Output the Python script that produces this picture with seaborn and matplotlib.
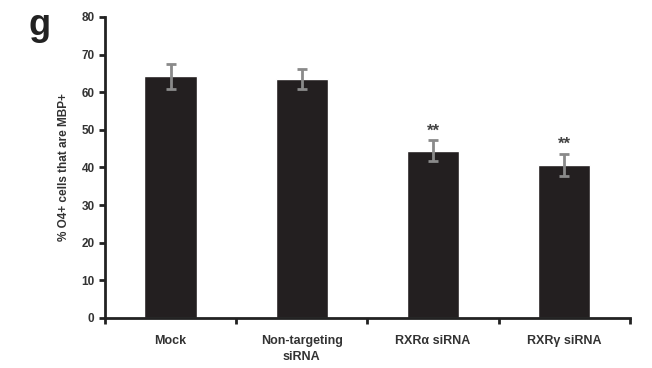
import numpy as np
import pandas as pd
import matplotlib
matplotlib.use("Agg")
import matplotlib.pyplot as plt
import seaborn as sns

# values
groups = ["Mock", "Non-targeting\nsiRNA", "RXR\u03b1 siRNA", "RXR\u03b3 siRNA"]
means = [64.2, 63.5, 44.4, 40.6]
errors = [3.4, 2.7, 2.8, 3.0]
stars = ["", "", "**", "**"]

df = pd.DataFrame({"group": groups, "pct": means})

sns.set_style("ticks")
plt.rcParams['font.family'] = ['Liberation Sans', 'DejaVu Sans']
plt.rcParams['font.weight'] = 'bold'

fig = plt.figure(figsize=(6.52, 3.68), dpi=100)
ax = fig.add_axes([0.161, 0.136, 0.805, 0.818])

sns.barplot(data=df, x="group", y="pct", color="#231f20", width=0.4,
            saturation=1, ax=ax)
x = np.arange(len(groups))
ax.errorbar(x, means, yerr=errors, fmt="none", ecolor="#8a8a8a",
            elinewidth=2, capsize=3.5, capthick=2)

for xi, m, e, s in zip(x, means, errors, stars):
    if s:
        ax.text(xi, m + e + 0.5, s, ha="center", va="bottom",
                fontsize=12, color="#444444")

ax.set_xlim(-0.5, len(groups) - 0.5)
ax.set_ylim(0, 80)
ax.set_yticks(range(0, 81, 10))
ax.set_xticks(np.arange(-0.5, len(groups), 1.0), minor=True)
ax.tick_params(axis="x", which="major", length=0, pad=12, labelsize=9,
               colors="#333333", bottom=True)
ax.tick_params(axis="x", which="minor", length=4, width=2, color="#222222",
               direction="out", bottom=True)
ax.tick_params(axis="y", length=4, width=2, color="#222222", labelsize=8.5,
               labelcolor="#333333", direction="out", left=True)
for lbl in ax.get_xticklabels():
    lbl.set_linespacing(1.45)
ax.set_xlabel("")
ax.set_ylabel("% O4+ cells that are MBP+", fontsize=8.5, color="#333333",
              fontweight="bold", labelpad=8)

for side in ["top", "right"]:
    ax.spines[side].set_visible(False)
for side in ["left", "bottom"]:
    ax.spines[side].set_linewidth(2)
    ax.spines[side].set_color("#222222")

fig.text(0.043, 0.93, "g", fontsize=26, fontweight="bold", color="#222222",
         ha="left", va="center")

fig.savefig("out.png", dpi=100)
